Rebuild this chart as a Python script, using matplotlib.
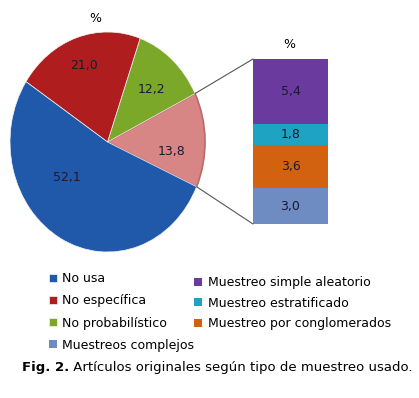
import matplotlib
matplotlib.use("Agg")
import matplotlib.pyplot as plt
from matplotlib.patches import ConnectionPatch
import numpy as np

# pie data (legend order)
pie_labels = ["No usa", "No específica", "No probabilístico", "Probabilístico"]
pie_values = [52.1, 21.0, 12.2, 13.8]
pie_colors = ["#2159aa", "#b01d1f", "#7ca829", "#d88585"]

# breakdown of the probabilistic slice (bottom to top)
bar_labels = ["Muestreos complejos", "Muestreo por conglomerados",
              "Muestreo estratificado", "Muestreo simple aleatorio"]
bar_values = [3.0, 3.6, 1.8, 5.4]
bar_colors = ["#6e8bc2", "#d2620f", "#1ea3c2", "#6a3a9e"]

caption_bold = "Fig. 2."
caption_text = "Artículos originales según tipo de muestreo usado."

W, H = 419, 398
fig = plt.figure(figsize=(W / 100, H / 100), dpi=100)
fig.patch.set_facecolor("white")


def px(x0, y0, x1, y1):
    # pixel box -> figure fraction rect
    return [x0 / W, 1 - y1 / H, (x1 - x0) / W, (y1 - y0) / H]


def fmt(v):
    return f"{v:.1f}".replace(".", ",")


# ---- pie ----
ax = fig.add_axes(px(10, 32, 205, 252))
order = [3, 2, 1, 0]  # pink, green, red, blue counter-clockwise
wedges, _ = ax.pie([pie_values[i] for i in order],
                   colors=[pie_colors[i] for i in order],
                   startangle=-24, counterclock=True,
                   wedgeprops=dict(linewidth=0.5, edgecolor="#f4f4f4"))
ax.set_aspect("auto")
ax.set_xlim(-1, 1)
ax.set_ylim(-1, 1)
wedges[0].set_edgecolor("#b86a6a")
wedges[0].set_linewidth(1.2)

label_pos = [(-0.42, -0.32), (-0.24, 0.70), (0.45, 0.48), (0.66, -0.09)]
for i, v in enumerate(pie_values):
    ax.text(*label_pos[i], fmt(v), ha="center", va="center",
            fontsize=9, color="#1a1a33")
fig.text(95 / W, 1 - 18 / H, "%", ha="center", va="center", fontsize=9)

# ---- stacked bar ----
axb = fig.add_axes(px(253, 59, 328, 224))
bottom = 0
for v, c in zip(bar_values, bar_colors):
    axb.bar(0, v, width=1, bottom=bottom, color=c, edgecolor="none")
    axb.text(0, bottom + v / 2, fmt(v), ha="center", va="center",
             fontsize=9, color="#1a1a33")
    bottom += v
axb.set_xlim(-0.5, 0.5)
axb.set_ylim(0, sum(bar_values))
axb.axis("off")
fig.text(289 / W, 1 - 44 / H, "%", ha="center", va="center", fontsize=9)

# connector lines
w = wedges[0]
for ang, yb in [(w.theta2, sum(bar_values)), (w.theta1, 0)]:
    xy = (np.cos(np.radians(ang)), np.sin(np.radians(ang)))
    con = ConnectionPatch(xyA=xy, coordsA=ax.transData,
                          xyB=(-0.5, yb), coordsB=axb.transData,
                          color="#555555", linewidth=0.8)
    fig.add_artist(con)

# ---- legends ----
bars = axb.patches
h1 = [wedges[3], wedges[2], wedges[1], bars[0]]
l1 = pie_labels[:3] + [bar_labels[0]]
fig.legend(h1, l1, loc="upper left", bbox_to_anchor=(44 / W, 1 - 267 / H),
           frameon=False, fontsize=9, handlelength=0.6, handleheight=0.6,
           handletextpad=0.4, labelspacing=0.74, borderaxespad=0)
fig.legend([bars[3], bars[2], bars[1]],
           [bar_labels[3], bar_labels[2], bar_labels[1]],
           loc="upper left", bbox_to_anchor=(189 / W, 1 - 271 / H),
           frameon=False, fontsize=9, handlelength=0.6, handleheight=0.6,
           handletextpad=0.5, labelspacing=0.62, borderaxespad=0)

# ---- caption ----
t1 = fig.text(22 / W, 1 - 367 / H, caption_bold, fontsize=9.5,
              fontweight="bold", va="center")
plt.annotate(" " + caption_text, xy=(1, 0), xycoords=t1, va="bottom",
             fontsize=9.5, annotation_clip=False)

fig.savefig("out.png", dpi=100, facecolor="white")
